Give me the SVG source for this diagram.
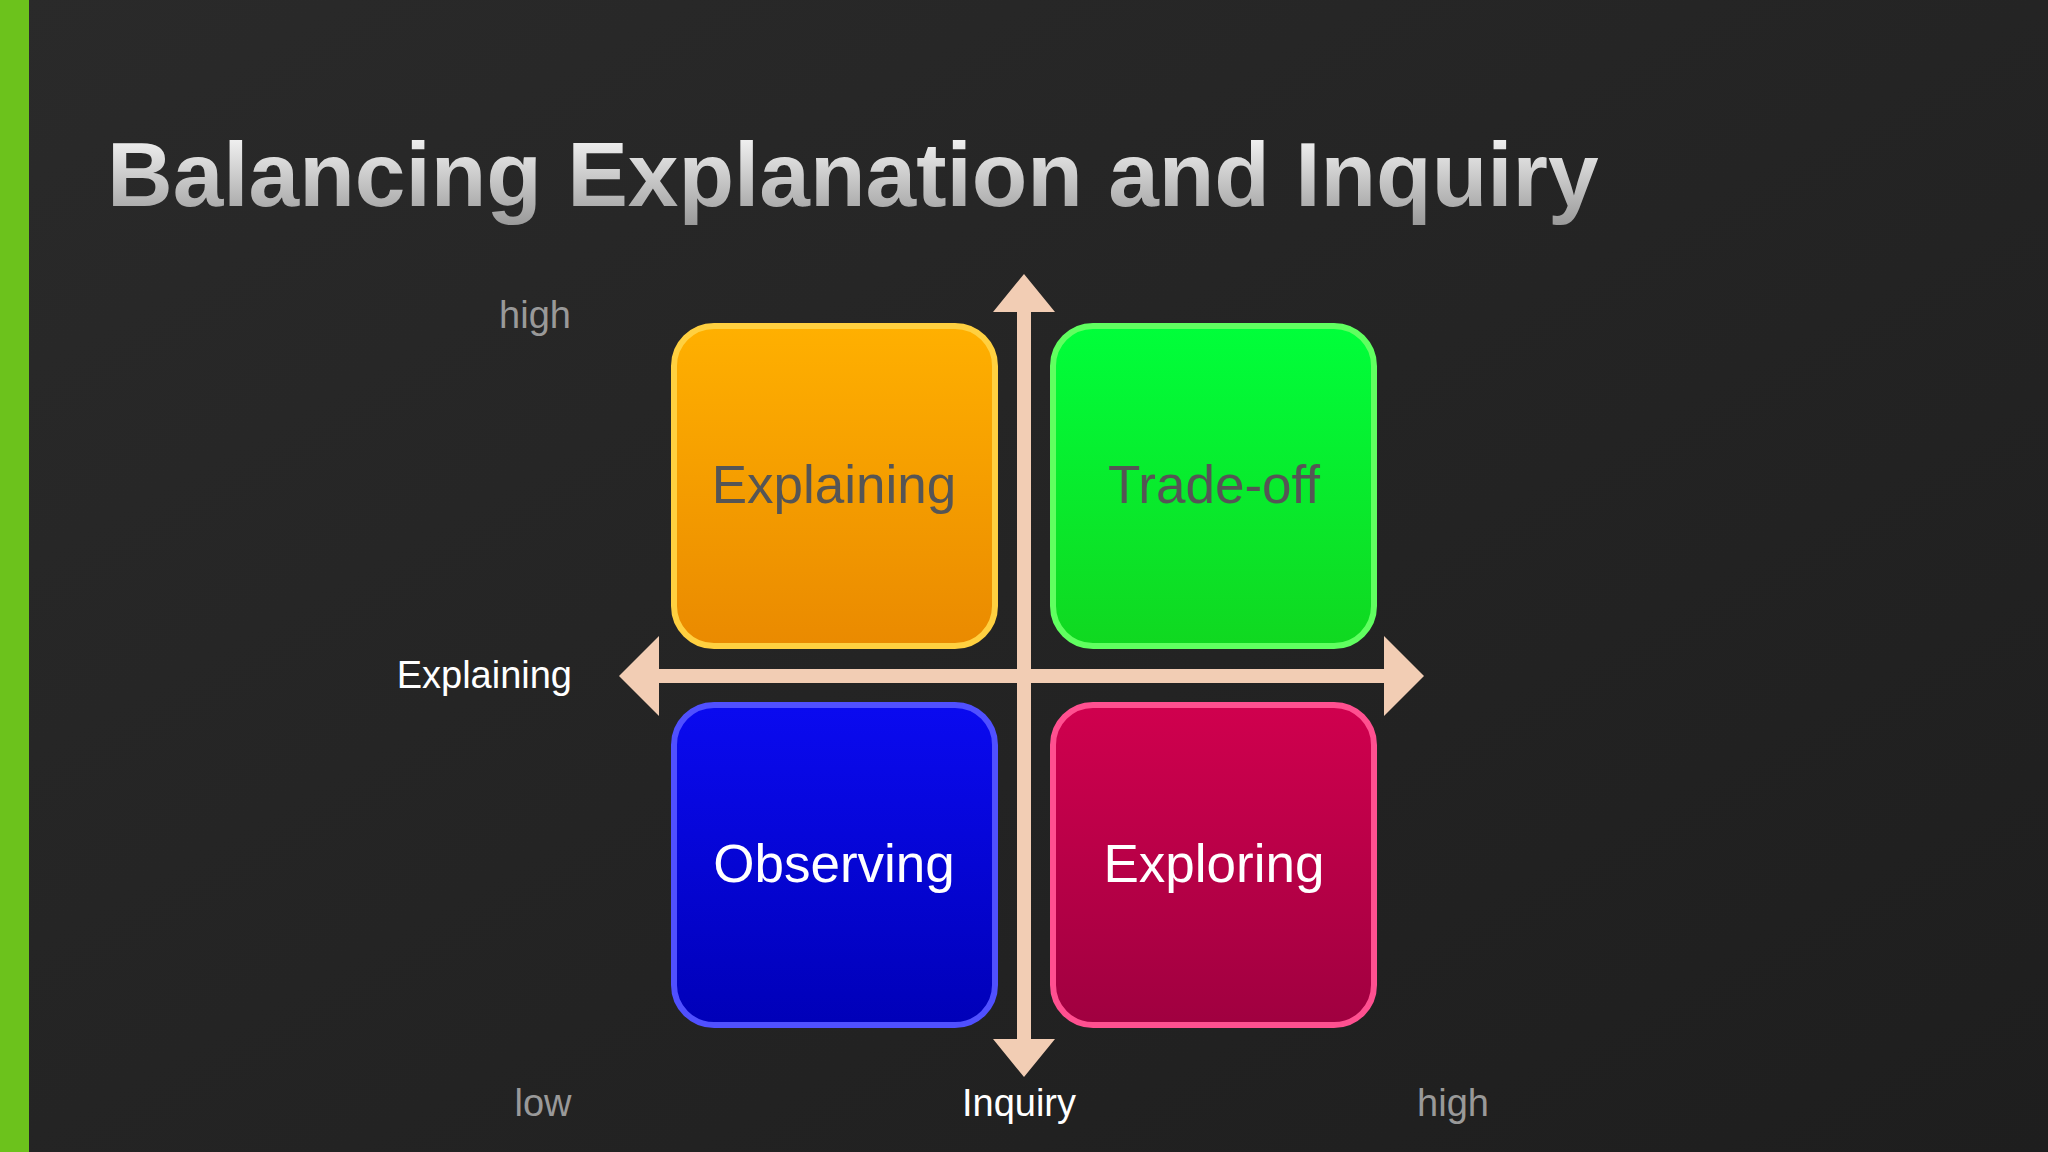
<svg xmlns="http://www.w3.org/2000/svg" width="2048" height="1152" viewBox="0 0 2048 1152">
<defs>
<linearGradient id="bg" x1="0" y1="0" x2="1" y2="1"><stop offset="0" stop-color="#2a2a2a"/><stop offset="1" stop-color="#1e1e1e"/></linearGradient>
<linearGradient id="tt" x1="0" y1="0" x2="0" y2="1"><stop offset="0" stop-color="#ffffff"/><stop offset="1" stop-color="#9a9a9a"/></linearGradient>
<linearGradient id="go" x1="0" y1="0" x2="0" y2="1"><stop offset="0" stop-color="#ffb000"/><stop offset="1" stop-color="#ea8a00"/></linearGradient>
<linearGradient id="gg" x1="0" y1="0" x2="0" y2="1"><stop offset="0" stop-color="#00ff3a"/><stop offset="1" stop-color="#10d820"/></linearGradient>
<linearGradient id="gb" x1="0" y1="0" x2="0" y2="1"><stop offset="0" stop-color="#0a0af0"/><stop offset="1" stop-color="#0000b8"/></linearGradient>
<linearGradient id="gr" x1="0" y1="0" x2="0" y2="1"><stop offset="0" stop-color="#d0004e"/><stop offset="1" stop-color="#a00040"/></linearGradient>
<style>
.box{stroke-width:6}
.bt{font-family:"Liberation Sans",Arial,sans-serif;font-size:53px;text-anchor:middle}
.lb{font-family:"Liberation Sans",Arial,sans-serif;font-size:38px}
</style>
</defs>
<rect width="2048" height="1152" fill="url(#bg)"/>
<rect width="29" height="1152" fill="#6cc21c"/>
<text x="107" y="206" font-family="Liberation Sans,Arial,sans-serif" font-weight="bold" font-size="91" fill="url(#tt)">Balancing Explanation and Inquiry</text>
<g id="n-explaining"><rect class="box" x="674" y="326" width="321" height="320" rx="40" fill="url(#go)" stroke="#ffd040"/><text class="bt" x="834" y="503" fill="#555">Explaining</text></g>
<g id="n-tradeoff"><rect class="box" x="1053" y="326" width="321" height="320" rx="40" fill="url(#gg)" stroke="#60ff60"/><text class="bt" x="1214" y="503" fill="#555">Trade-off</text></g>
<g id="n-observing"><rect class="box" x="674" y="705" width="321" height="320" rx="40" fill="url(#gb)" stroke="#5050ff"/><text class="bt" x="834" y="882" fill="#fff">Observing</text></g>
<g id="n-exploring"><rect class="box" x="1053" y="705" width="321" height="320" rx="40" fill="url(#gr)" stroke="#ff5090"/><text class="bt" x="1214" y="882" fill="#fff">Exploring</text></g>
<g id="connectors" fill="#f2cdb4">
<polygon points="1024,274 1055,312 1031,312 1031,1039 1055,1039 1024,1077 993,1039 1017,1039 1017,312 993,312"/>
<polygon points="619,676 659,636 659,669 1384,669 1384,636 1424,676 1384,716 1384,683 659,683 659,716"/>
</g>
<text class="lb" x="535" y="328" fill="#999" text-anchor="middle">high</text>
<text class="lb" x="572" y="688" fill="#fff" text-anchor="end">Explaining</text>
<text class="lb" x="543" y="1116" fill="#999" text-anchor="middle">low</text>
<text class="lb" x="1019" y="1116" fill="#fff" text-anchor="middle">Inquiry</text>
<text class="lb" x="1453" y="1116" fill="#999" text-anchor="middle">high</text>
</svg>
